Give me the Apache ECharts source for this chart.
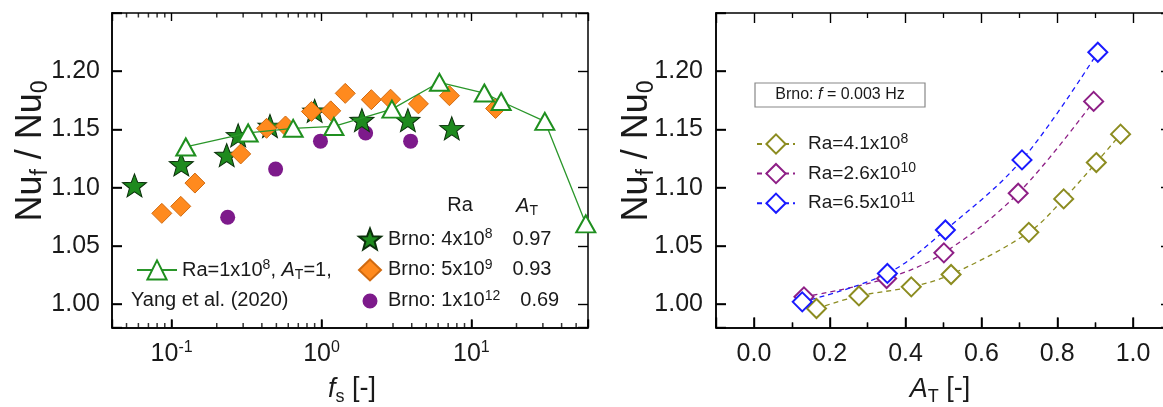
<!DOCTYPE html>
<html><head><meta charset="utf-8">
<script src="https://cdn.jsdelivr.net/npm/echarts@6/dist/echarts.min.js"></script>
<style>
html,body{margin:0;padding:0;background:#fff}
#wrap{position:relative;width:1163px;height:407px}
#c,#o{position:absolute;left:0;top:0;width:1163px;height:407px}
#o{pointer-events:none}
</style>
</head><body><div id="wrap"><div id="c"></div><div id="o"></div></div>
<script>
// ---------- Left panel: f_s vs Nu_f/Nu_0 ----------
const brno4e8  = [[0.0565,1.102],[0.116,1.120],[0.233,1.128],[0.278,1.145],[0.453,1.153],[0.90,1.166],[1.86,1.158],[3.77,1.158],[7.4,1.151]];
const brno5e9  = [[0.086,1.078],[0.115,1.084],[0.143,1.104],[0.289,1.129],[0.43,1.151],[0.575,1.153],[0.857,1.1655],[1.152,1.166],[1.44,1.181],[2.15,1.1756],[2.89,1.176],[4.43,1.172],[7.14,1.179],[14.5,1.168]];
const brno1e12 = [[0.2366,1.0746],[0.494,1.116],[0.984,1.140],[1.97,1.147],[3.93,1.140]];
const yang2020 = [[0.1243,1.135],[0.324,1.147],[0.647,1.151],[1.21,1.1526],[2.95,1.1675],[6.12,1.1905],[12.2,1.1813],[15.8,1.174],[30.9,1.157],[58,1.069]];
// ---------- Right panel: A_T vs Nu_f/Nu_0 (Brno, f = 0.003 Hz) ----------
const ra41e8  = [[0.165,0.9963],[0.277,1.0071],[0.415,1.0149],[0.520,1.0255],[0.725,1.0617],[0.817,1.0904],[0.903,1.1216],[0.967,1.146]];
const ra26e10 = [[0.132,1.0063],[0.350,1.0221],[0.501,1.0441],[0.697,1.0953],[0.896,1.1741]];
const ra65e11 = [[0.1275,1.002],[0.352,1.0264],[0.505,1.0637],[0.707,1.1239],[0.907,1.2163]];
// ---------- axes / ticks ----------
const fsRange = [0.04, 60];
const atRange = [-0.1, 1.1];
const nuRange = [0.98, 1.25];
const nuTicks = [1.00, 1.05, 1.10, 1.15, 1.20];
const fsMinorTicks = [0.05,0.06,0.07,0.08,0.09,0.2,0.3,0.4,0.5,0.6,0.7,0.8,0.9,2,3,4,5,6,7,8,9,20,30,40,50];
const atMajorTicks = [0.0, 0.2, 0.4, 0.6, 0.8, 1.0];
// ---------- legend texts ----------
const brnoLabels = {
  'Brno 4e8':  '{g|}{t|Brno: 4x10}{sup|8}{sp|}{t|0.97}',
  'Brno 5e9':  '{g|}{t|Brno: 5x10}{sup|9}{sp|}{t|0.93}',
  'Brno 1e12': '{g|}{t|Brno: 1x10}{sup|12}{sp|}{t|0.69}'
};
const yangName = 'Yang';
const yangLabel = '{t|Ra=1x10}{sup|8}{t|, }{it|A}{sub|T}{t|=1,}';
const rightNames = ['Ra 4.1e8','Ra 2.6e10','Ra 6.5e11'];
const rightLabels = {
  'Ra 4.1e8':  '{g|}{t|Ra=4.1x10}{sup|8}',
  'Ra 2.6e10': '{g|}{t|Ra=2.6x10}{sup|10}',
  'Ra 6.5e11': '{g|}{t|Ra=6.5x10}{sup|11}'
};

const FF = "'Liberation Sans', Arial, sans-serif";
const TXT = '#1a1a1a';
const STAR = 'path://M50,0L62.34,33.01L97.55,34.55L69.97,56.49L79.39,90.45L50,71L20.61,90.45L30.03,56.49L2.45,34.55L37.66,33.01Z';
const SMALL_CIRCLE = 'path://M0,0L0.01,0L0,0.01Z M22,21L21.99,21L22,20.99Z M18.5,10.5A7.5,7.5,0,1,1,3.5,10.5A7.5,7.5,0,1,1,18.5,10.5Z';

const legRich = (fs, gap) => ({
  t:   {fontSize: fs, fontFamily: FF, color: TXT, lineHeight: 24},
  it:  {fontSize: fs, fontFamily: FF, color: TXT, lineHeight: 24, fontStyle: 'italic'},
  sup: {fontSize: 14, fontFamily: FF, color: TXT, lineHeight: 14, verticalAlign: 'top'},
  sub: {fontSize: 14, fontFamily: FF, color: TXT, lineHeight: 14, verticalAlign: 'bottom'},
  g:   {width: gap},
  sp:  {width: 20}
});
const axisLabelRich = {
  b: {fontSize: 25, fontFamily: FF, color: TXT, lineHeight: 30},
  s: {fontSize: 16, fontFamily: FF, color: TXT, lineHeight: 16, verticalAlign: 'top'}
};
const richX = {
  t:   {fontSize: 27, fontFamily: FF, fill: TXT, lineHeight: 34},
  it:  {fontSize: 27, fontFamily: FF, fill: TXT, lineHeight: 34, fontStyle: 'italic'},
  sub: {fontSize: 18, fontFamily: FF, fill: TXT, lineHeight: 18, verticalAlign: 'bottom'}
};
const richY = {
  t:   {fontSize: 36, fontFamily: FF, fill: TXT, lineHeight: 42},
  sub: {fontSize: 23, fontFamily: FF, fill: TXT, lineHeight: 23, verticalAlign: 'bottom'}
};
const yName = '{t|Nu}{sub|f}{t| / Nu}{sub|0}';

function logLabel(v) {
  const e = Math.log10(v), r = Math.round(e);
  if (Math.abs(e - r) > 1e-6) return '';
  return '{b|10}{s|' + r + '}';
}
function nuLabel(v) {
  if (v < nuTicks[0] - 1e-6 || v > nuTicks[nuTicks.length - 1] + 1e-6) return '';
  return v.toFixed(2);
}
function atLabel(v) {
  if (v < atMajorTicks[0] - 1e-6 || v > atMajorTicks[atMajorTicks.length - 1] + 1e-6) return '';
  return v.toFixed(1);
}

const GW = [476, 455], GH = 314.5;
const grids = () => [
  {left: 112, top: 13, width: GW[0], height: GH, show: false, outerBoundsMode: 'none', containLabel: false},
  {left: 716, top: 13, width: GW[1], height: GH, show: false, outerBoundsMode: 'none', containLabel: false}
];
const axisLine = () => ({show: true, onZero: false, lineStyle: {color: '#000', width: 1.5}});
const tick = len => ({show: true, inside: true, length: len, lineStyle: {color: '#000', width: 1.4}});
const minor = () => ({show: true, splitNumber: 2, length: 5, lineStyle: {color: '#000', width: 1.3}});

// ================= main chart =================
const chart = echarts.init(document.getElementById('c'), null, {renderer: 'canvas'});
chart.setOption({
  animation: false,
  grid: grids(),
  xAxis: [
    {type: 'log', logBase: 10, gridIndex: 0, min: fsRange[0], max: fsRange[1], position: 'bottom',
     axisLine: axisLine(), axisTick: tick(8), splitLine: {show: false},
     axisLabel: {formatter: logLabel, rich: axisLabelRich, margin: 12}},
    {type: 'log', logBase: 10, gridIndex: 0, min: fsRange[0], max: fsRange[1], position: 'top',
     axisLine: axisLine(), axisTick: tick(8), axisLabel: {show: false}, splitLine: {show: false}},
    {type: 'value', gridIndex: 1, min: atRange[0], max: atRange[1], position: 'bottom',
     axisLine: axisLine(), axisTick: tick(10), minorTick: minor(), splitLine: {show: false},
     axisLabel: {formatter: atLabel, fontSize: 25, fontFamily: FF, color: TXT, margin: 14}},
    {type: 'value', gridIndex: 1, min: atRange[0], max: atRange[1], position: 'top',
     axisLine: axisLine(), axisTick: tick(10), minorTick: minor(), axisLabel: {show: false}, splitLine: {show: false}}
  ],
  yAxis: [
    {type: 'value', gridIndex: 0, min: nuRange[0], max: nuRange[1], splitNumber: 5, position: 'left',
     axisLine: axisLine(), axisTick: tick(10), splitLine: {show: false},
     axisLabel: {formatter: nuLabel, fontSize: 25, fontFamily: FF, color: TXT, margin: 12}},
    {type: 'value', gridIndex: 0, min: nuRange[0], max: nuRange[1], splitNumber: 5, position: 'right',
     axisLine: axisLine(), axisTick: tick(10), axisLabel: {show: false}, splitLine: {show: false}},
    {type: 'value', gridIndex: 1, min: nuRange[0], max: nuRange[1], splitNumber: 5, position: 'left',
     axisLine: axisLine(), axisTick: tick(10), splitLine: {show: false},
     axisLabel: {formatter: nuLabel, fontSize: 25, fontFamily: FF, color: TXT, margin: 13}},
    {type: 'value', gridIndex: 1, min: nuRange[0], max: nuRange[1], splitNumber: 5, position: 'right',
     axisLine: axisLine(), axisTick: tick(10), axisLabel: {show: false}, splitLine: {show: false}}
  ],
  legend: [
    {data: [{name: 'Brno 4e8'}, {name: 'Brno 5e9'}, {name: 'Brno 1e12', icon: SMALL_CIRCLE}],
     orient: 'vertical', left: 353, top: 222, itemWidth: 22, itemHeight: 21, itemGap: 7.5,
     formatter: n => brnoLabels[n], textStyle: {rich: legRich(20, 2)}, selectedMode: false},
    {data: [yangName], orient: 'vertical', left: 131, top: 253, itemWidth: 40, itemHeight: 24,
     formatter: () => yangLabel, textStyle: {rich: legRich(20, 0)}, selectedMode: false},
    {data: rightNames, orient: 'vertical', left: 751, top: 127, itemWidth: 38, itemHeight: 24, itemGap: 7,
     formatter: n => rightLabels[n], textStyle: {rich: legRich(19, 8)}, selectedMode: false}
  ],
  graphic: [
    {type: 'text', x: 31, y: 151, rotation: Math.PI / 2, style: {text: yName, align: 'center', verticalAlign: 'middle', rich: richY}},
    {type: 'text', x: 637, y: 151, rotation: Math.PI / 2, style: {text: yName, align: 'center', verticalAlign: 'middle', rich: richY}},
    {type: 'text', x: 352, y: 389, style: {text: '{it|f}{sub|s}{t| [-]}', align: 'center', verticalAlign: 'middle', rich: richX}},
    {type: 'text', x: 940, y: 389, style: {text: '{it|A}{sub|T}{t| [-]}', align: 'center', verticalAlign: 'middle', rich: richX}},
    {type: 'text', x: 460, y: 205, style: {text: 'Ra', align: 'center', verticalAlign: 'middle', fontSize: 20, fontFamily: FF, fill: TXT}},
    {type: 'text', x: 527, y: 206, style: {text: '{it|A}{sub|T}', align: 'center', verticalAlign: 'middle',
      rich: {it: {fontSize: 20, fontFamily: FF, fontStyle: 'italic', fill: TXT, lineHeight: 24},
             sub: {fontSize: 14, fontFamily: FF, fill: TXT, lineHeight: 14, verticalAlign: 'bottom'}}}},
    {type: 'text', x: 131, y: 300, style: {text: 'Yang et al. (2020)', align: 'left', verticalAlign: 'middle', fontSize: 20, fontFamily: FF, fill: TXT}},
    {type: 'rect', shape: {x: 755, y: 83, width: 170, height: 24}, style: {fill: '#fff', stroke: '#888', lineWidth: 1.2}},
    {type: 'text', x: 840, y: 95, style: {text: '{t|Brno: }{it|f}{t| = 0.003 Hz}', align: 'center', verticalAlign: 'middle',
      rich: {t: {fontSize: 16, fontFamily: FF, fill: TXT}, it: {fontSize: 16, fontFamily: FF, fill: TXT, fontStyle: 'italic'}}}}
  ],
  series: [
    {name: yangName, type: 'line', xAxisIndex: 0, yAxisIndex: 0, data: yang2020,
     symbol: 'triangle', symbolSize: [19, 17], clip: false,
     lineStyle: {color: '#2a962a', width: 1.3},
     itemStyle: {color: '#fff', borderColor: '#1f8f1f', borderWidth: 2}},
    {name: 'Brno 1e12', type: 'scatter', xAxisIndex: 0, yAxisIndex: 0, data: brno1e12,
     symbol: 'circle', symbolSize: 15, itemStyle: {color: '#7d1a8b', opacity: 1}},
    {name: 'Brno 4e8', type: 'scatter', xAxisIndex: 0, yAxisIndex: 0, data: brno4e8,
     symbol: STAR, symbolSize: [24, 23], itemStyle: {color: '#1e8a1e', borderColor: '#0b300b', borderWidth: 1, opacity: 1}},
    {name: 'Brno 5e9', type: 'scatter', xAxisIndex: 0, yAxisIndex: 0, data: brno5e9,
     symbol: 'diamond', symbolSize: 20, itemStyle: {color: '#ff8a1e', borderColor: '#d06a10', borderWidth: 1, opacity: 1}},
    {name: 'Ra 4.1e8', type: 'line', xAxisIndex: 2, yAxisIndex: 2, data: ra41e8, smooth: 0.35,
     symbol: 'diamond', symbolSize: 19,
     lineStyle: {color: '#8c8c20', width: 1.3, type: [5, 4]},
     itemStyle: {color: '#fff', borderColor: '#8c8c20', borderWidth: 2}},
    {name: 'Ra 2.6e10', type: 'line', xAxisIndex: 2, yAxisIndex: 2, data: ra26e10, smooth: 0.35,
     symbol: 'diamond', symbolSize: 19,
     lineStyle: {color: '#8e1f86', width: 1.3, type: [5, 4]},
     itemStyle: {color: '#fff', borderColor: '#8e1f86', borderWidth: 2}},
    {name: 'Ra 6.5e11', type: 'line', xAxisIndex: 2, yAxisIndex: 2, data: ra65e11, smooth: 0.35,
     symbol: 'diamond', symbolSize: 19,
     lineStyle: {color: '#1a1aff', width: 1.3, type: [5, 4]},
     itemStyle: {color: '#fff', borderColor: '#1a1aff', borderWidth: 2}}
  ]
});

// ================= tick overlay: same grids and scales, set up like a plain default axis =================
const CLEAR = 'rgba(0,0,0,0)';
const oLine = () => ({show: true, onZero: false, lineStyle: {color: '#000', width: 1.5}});
const oTick = len => ({show: true, inside: true, length: len, lineStyle: {color: '#000', width: 1.6}});
const oLabel = () => ({show: true, color: CLEAR});
const oSplit = () => ({show: true, lineStyle: {color: CLEAR}});
const overlay = echarts.init(document.getElementById('o'));
overlay.setOption({
  animation: false,
  grid: grids(),
  xAxis: [
    {type: 'log', gridIndex: 0, min: fsRange[0], max: fsRange[1], position: 'bottom', axisLine: oLine(), axisTick: oTick(8), axisLabel: oLabel(), splitLine: oSplit()},
    {type: 'value', gridIndex: 1, min: atRange[0], max: atRange[1], position: 'bottom', axisLine: oLine(), axisTick: oTick(10),
     minorTick: {show: true, splitNumber: 2, length: 5, lineStyle: {color: '#000', width: 1.4}}, axisLabel: oLabel(), splitLine: oSplit()}
  ],
  yAxis: [
    {type: 'value', gridIndex: 0, min: nuRange[0], max: nuRange[1], splitNumber: 5, position: 'left', axisLine: oLine(), axisTick: oTick(10), axisLabel: oLabel(), splitLine: oSplit()},
    {type: 'value', gridIndex: 1, min: nuRange[0], max: nuRange[1], splitNumber: 5, position: 'left', axisLine: oLine(), axisTick: oTick(10), axisLabel: oLabel(), splitLine: oSplit()}
  ],
  series: [
    // log minor ticks on the bottom (pointing up) and top (pointing down) of the left panel
    {type: 'scatter', xAxisIndex: 0, yAxisIndex: 0, clip: false, silent: true,
     data: fsMinorTicks.map(v => [v, nuRange[0]]), symbol: 'rect', symbolSize: [1.5, 4.5], symbolOffset: [0, -2.25], itemStyle: {color: '#000'}},
    {type: 'scatter', xAxisIndex: 0, yAxisIndex: 0, clip: false, silent: true,
     data: fsMinorTicks.map(v => [v, nuRange[1]]), symbol: 'rect', symbolSize: [1.5, 4.5], symbolOffset: [0, 2.25], itemStyle: {color: '#000'}}
  ]
});
</script></body></html>
